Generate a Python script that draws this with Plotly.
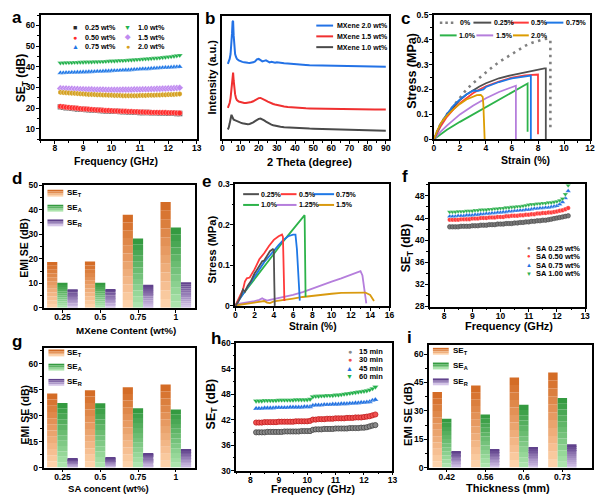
import plotly.graph_objects as go

W, H = 600, 503
FONT = "Liberation Sans"

# ---------------- DATA ----------------
FREQ = [8.2, 8.3, 8.4, 8.5, 8.6, 8.7, 8.8, 8.9, 9.0, 9.1,
        9.2, 9.3, 9.4, 9.5, 9.6, 9.7, 9.8, 9.9, 10.0, 10.1,
        10.2, 10.3, 10.4, 10.5, 10.6, 10.7, 10.8, 10.9, 11.0, 11.1,
        11.2, 11.3, 11.4, 11.5, 11.6, 11.7, 11.8, 11.9, 12.0, 12.1,
        12.2, 12.3, 12.4]

# panel a : SE_T vs frequency for MXene contents
A_025 = [20.6, 20.4, 20.2, 20.1, 19.9, 19.8, 19.6, 19.5, 19.4, 19.3,
         19.2, 19.1, 19.0, 18.9, 18.8, 18.7, 18.6, 18.6, 18.5, 18.4,
         18.4, 18.3, 18.2, 18.2, 18.1, 18.1, 18.0, 18.0, 17.9, 17.9,
         17.8, 17.8, 17.7, 17.7, 17.7, 17.6, 17.6, 17.6, 17.5, 17.5,
         17.5, 17.4, 17.4]
A_050 = [20.8, 20.6, 20.4, 20.3, 20.1, 20.0, 19.9, 19.7, 19.6, 19.5,
         19.4, 19.3, 19.2, 19.1, 19.0, 18.9, 18.8, 18.8, 18.7, 18.6,
         18.6, 18.5, 18.4, 18.4, 18.3, 18.3, 18.2, 18.2, 18.1, 18.1,
         18.0, 18.0, 17.9, 17.9, 17.9, 17.8, 17.8, 17.8, 17.7, 17.7,
         17.7, 17.6, 17.6]
A_075 = [37.0, 37.0, 37.1, 37.1, 37.2, 37.2, 37.3, 37.3, 37.4, 37.4,
         37.5, 37.5, 37.6, 37.7, 37.7, 37.8, 37.9, 37.9, 38.0, 38.1,
         38.1, 38.2, 38.3, 38.4, 38.4, 38.5, 38.6, 38.7, 38.8, 38.9,
         38.9, 39.0, 39.1, 39.2, 39.3, 39.4, 39.5, 39.6, 39.6, 39.7,
         39.8, 39.9, 40.0]
A_100 = [41.9, 41.9, 42.0, 42.0, 42.0, 42.1, 42.1, 42.2, 42.2, 42.3,
         42.3, 42.3, 42.4, 42.4, 42.5, 42.5, 42.6, 42.7, 42.8, 42.8,
         42.9, 43.0, 43.0, 43.1, 43.2, 43.3, 43.4, 43.5, 43.6, 43.7,
         43.8, 43.9, 44.0, 44.1, 44.2, 44.3, 44.5, 44.6, 44.8, 44.9,
         45.1, 45.3, 45.5]
A_150 = [29.5, 29.4, 29.4, 29.3, 29.3, 29.2, 29.2, 29.1, 29.1, 29.0,
         29.0, 29.0, 28.9, 28.9, 28.9, 28.9, 28.8, 28.8, 28.8, 28.8,
         28.8, 28.8, 28.9, 28.9, 28.9, 28.9, 29.0, 29.0, 29.0, 29.1,
         29.1, 29.1, 29.2, 29.2, 29.3, 29.3, 29.4, 29.4, 29.5, 29.5,
         29.6, 29.7, 29.8]
A_200 = [27.6, 27.5, 27.4, 27.3, 27.2, 27.1, 27.0, 26.9, 26.8, 26.7,
         26.6, 26.6, 26.5, 26.4, 26.4, 26.3, 26.3, 26.2, 26.2, 26.1,
         26.1, 26.1, 26.0, 26.0, 26.0, 26.0, 26.0, 26.0, 26.1, 26.1,
         26.1, 26.2, 26.2, 26.2, 26.3, 26.3, 26.4, 26.4, 26.5, 26.5,
         26.6, 26.7, 26.8]

# panel b : XRD
XRD_2THETA = [3, 3.5, 4, 4.5, 5, 5.3, 5.6, 5.9, 6.2, 6.5, 7, 7.5, 8,
              9, 10, 11, 12, 13, 14, 15, 16, 17, 18, 19, 20, 21, 22, 23, 24, 25, 26, 27, 28, 29, 30,
              32, 34, 36, 38, 40, 42, 44, 46, 48, 50, 52, 54, 56, 58, 60, 62, 64, 66, 68, 70,
              72, 74, 76, 78, 80, 82, 84, 86, 88, 90]
XRD_20 = [77, 79, 82, 87, 97, 108, 120, 121, 106, 95, 87, 84, 82,
          80.5, 79.5, 79, 78.5, 78, 78, 77.8, 78, 78.5, 79.5, 81.5, 82, 80.5, 79.5, 80, 80.5, 79.5, 78.5, 79, 78.5, 78, 78.5,
          77.8, 77.5, 77.2, 76.8, 76.5, 76.4, 76.0, 75.9, 75.6, 75.5, 75.4, 75.3, 75.2, 75.2, 75.0, 75.0, 74.9, 74.9, 74.8, 74.7,
          74.7, 74.6, 74.6, 74.5, 74.4, 74.4, 74.3, 74.2, 74.2, 74.0]
XRD_15 = [32, 34, 37, 42, 52, 60, 67, 68, 60, 53, 46, 42, 40,
          38.5, 37.8, 37.3, 37, 37, 37.2, 37.5, 38, 38.8, 40, 41.2, 42, 42.2, 41.5, 40.5, 39.5, 38.5, 37.5, 36.8, 36, 35.5, 35,
          34.2, 33.5, 33, 32.6, 32.3, 32, 31.8, 31.6, 31.5, 31.4, 31.3, 31.2, 31.1, 31.0, 31.0, 30.9, 30.9, 30.8, 30.8, 30.7,
          30.7, 30.6, 30.6, 30.5, 30.5, 30.5, 30.4, 30.4, 30.3, 30.3]
XRD_10 = [10, 12, 16, 22, 25, 23.5, 21.5, 20.5, 20, 19.8, 19.5, 19, 18.5,
          17.7, 17, 16.3, 15.8, 15.5, 15.4, 15.6, 16.2, 17.2, 18.5, 19.8, 20.8, 21.2, 20.5, 19.3, 18, 16.8, 15.8, 15, 14.3, 13.8, 13.4,
          12.8, 12.3, 12.0, 11.8, 11.6, 11.4, 11.2, 11.0, 10.9, 10.8, 10.7, 10.6, 10.5, 10.4, 10.3, 10.2, 10.1, 10.0, 9.9, 9.8,
          9.7, 9.6, 9.5, 9.4, 9.3, 9.2, 9.1, 9.0, 8.9, 8.8]

# panel c : stress-strain (MXene)
C_0_X = [0, 0.5, 1, 1.5, 2, 2.5, 3, 3.5, 4, 4.5, 5, 5.5, 6, 6.5, 7, 7.5, 8, 8.5, 8.8, 8.95, 8.95]
C_0_Y = [0, 0.06, 0.1, 0.135, 0.165, 0.2, 0.225, 0.248, 0.27, 0.29, 0.31, 0.327, 0.343, 0.36, 0.375, 0.387, 0.396, 0.403, 0.405, 0.40, 0.04]
C_025_X = [0, 0.5, 1, 1.5, 2, 2.5, 3, 3.5, 4, 5, 6, 7, 8, 8.5, 8.6, 8.6]
C_025_Y = [0, 0.06, 0.1, 0.13, 0.158, 0.18, 0.197, 0.212, 0.225, 0.245, 0.258, 0.27, 0.28, 0.285, 0.285, 0]
C_05_X = [0, 0.5, 1, 1.5, 2, 2.5, 3, 3.5, 4, 5, 6, 7, 7.9, 8.0, 8.0]
C_05_Y = [0, 0.05, 0.09, 0.12, 0.145, 0.165, 0.185, 0.2, 0.213, 0.232, 0.248, 0.257, 0.26, 0.26, 0.02]
C_075_X = [0, 0.5, 1, 1.5, 2, 2.5, 3, 3.4, 3.8, 4.0, 4.5, 5, 6, 7, 7.35, 7.45, 7.45]
C_075_Y = [0, 0.06, 0.1, 0.135, 0.16, 0.18, 0.195, 0.195, 0.2, 0.21, 0.22, 0.23, 0.245, 0.254, 0.256, 0.256, 0]
C_10_X = [0, 0.5, 1, 2, 3, 4, 5, 6, 7, 7.15, 7.2, 7.2]
C_10_Y = [0, 0.02, 0.038, 0.07, 0.1, 0.13, 0.158, 0.19, 0.22, 0.224, 0.224, 0.03]
C_15_X = [0, 0.5, 1, 2, 3, 4, 5, 6, 6.25, 6.3, 6.3]
C_15_Y = [0, 0.03, 0.055, 0.1, 0.135, 0.165, 0.19, 0.21, 0.215, 0.215, 0]
C_20_X = [0, 0.3, 0.6, 1, 1.5, 2, 2.5, 3, 3.3, 3.6, 3.75, 3.8, 3.85, 3.9]
C_20_Y = [0, 0.04, 0.07, 0.095, 0.12, 0.142, 0.16, 0.172, 0.177, 0.178, 0.17, 0.14, 0.05, 0]

# panel e : stress-strain (SA)
E_025_X = [0, 0.3, 0.6, 0.8, 1.0, 1.3, 1.6, 2, 2.4, 2.8, 3.0, 3.3, 3.6, 3.9, 4.0, 4.05, 4.1]
E_025_Y = [0, 0.01, 0.025, 0.04, 0.035, 0.05, 0.06, 0.08, 0.095, 0.11, 0.112, 0.125, 0.135, 0.14, 0.138, 0.06, 0.0]
E_05_X = [0, 0.4, 0.8, 1.0, 1.2, 1.5, 2, 2.5, 3, 3.5, 4, 4.5, 4.85, 4.95, 5.05, 5.1]
E_05_Y = [0, 0.02, 0.04, 0.06, 0.068, 0.07, 0.09, 0.115, 0.13, 0.148, 0.163, 0.172, 0.176, 0.17, 0.06, 0.012]
E_075_X = [0, 0.5, 1, 1.5, 2, 2.5, 3, 3.5, 4, 4.5, 5, 5.5, 6, 6.25, 6.4, 6.55, 6.7]
E_075_Y = [0, 0.018, 0.037, 0.055, 0.075, 0.092, 0.108, 0.122, 0.137, 0.15, 0.163, 0.172, 0.176, 0.176, 0.14, 0.07, 0.013]
E_10_X = [0, 0.5, 1, 1.5, 2, 3, 4, 5, 6, 7, 7.2, 7.25, 7.3]
E_10_Y = [0, 0.02, 0.035, 0.05, 0.065, 0.095, 0.128, 0.16, 0.19, 0.218, 0.224, 0.12, 0.022]
E_125_X = [0, 0.5, 1, 1.5, 2, 2.5, 2.8, 3.0, 3.3, 3.6, 4, 5, 6, 7, 8, 9, 10, 11, 12, 12.6, 13.0, 13.2, 13.4, 13.6]
E_125_Y = [0.004, 0.006, 0.007, 0.009, 0.012, 0.015, 0.019, 0.016, 0.013, 0.015, 0.017, 0.021, 0.027, 0.034, 0.043, 0.052, 0.06, 0.068, 0.077, 0.083, 0.086, 0.075, 0.035, 0.006]
E_15_X = [0, 0.5, 1, 1.5, 2, 2.5, 3, 3.3, 3.6, 4, 5, 6, 7, 8, 9, 10, 11, 12, 13, 13.5, 14, 14.2, 14.4]
E_15_Y = [0.001, 0.003, 0.004, 0.006, 0.008, 0.01, 0.012, 0.008, 0.007, 0.011, 0.014, 0.018, 0.022, 0.025, 0.028, 0.03, 0.032, 0.033, 0.034, 0.033, 0.027, 0.02, 0.012]

# panel f : SE_T vs frequency for SA contents
F_025 = [42.4, 42.4, 42.4, 42.4, 42.5, 42.5, 42.5, 42.5, 42.6, 42.6,
         42.6, 42.7, 42.7, 42.7, 42.8, 42.8, 42.8, 42.9, 42.9, 42.9,
         43.0, 43.0, 43.0, 43.1, 43.1, 43.2, 43.2, 43.3, 43.3, 43.4,
         43.4, 43.5, 43.5, 43.6, 43.6, 43.7, 43.8, 43.9, 44.0, 44.1,
         44.2, 44.3, 44.4]
F_050 = [43.7, 43.7, 43.7, 43.7, 43.8, 43.8, 43.8, 43.8, 43.9, 43.9,
         43.9, 44.0, 44.0, 44.0, 44.1, 44.1, 44.1, 44.2, 44.2, 44.2,
         44.3, 44.3, 44.4, 44.4, 44.4, 44.5, 44.5, 44.6, 44.6, 44.7,
         44.7, 44.8, 44.8, 44.9, 44.9, 45.0, 45.0, 45.1, 45.2, 45.3,
         45.4, 45.6, 45.8]
F_075 = [44.3, 44.3, 44.3, 44.4, 44.4, 44.4, 44.5, 44.5, 44.5, 44.6,
         44.6, 44.7, 44.7, 44.8, 44.8, 44.9, 44.9, 45.0, 45.0, 45.1,
         45.1, 45.2, 45.2, 45.3, 45.3, 45.4, 45.4, 45.5, 45.5, 45.6,
         45.7, 45.7, 45.8, 45.8, 45.9, 45.9, 46.0, 46.1, 46.2, 46.5,
         46.9, 47.6, 48.9]
F_100 = [45.1, 45.1, 45.1, 45.2, 45.2, 45.2, 45.3, 45.3, 45.3, 45.4,
         45.4, 45.5, 45.5, 45.5, 45.6, 45.6, 45.7, 45.7, 45.8, 45.8,
         45.9, 45.9, 46.0, 46.0, 46.1, 46.1, 46.2, 46.3, 46.4, 46.5,
         46.5, 46.6, 46.6, 46.7, 46.7, 46.8, 46.8, 46.9, 47.0, 47.2,
         47.5, 48.3, 49.9]

# panel h : SE_T vs frequency for times
H_15 = [39.0, 39.0, 39.0, 39.0, 39.1, 39.1, 39.1, 39.1, 39.1, 39.1,
        39.2, 39.2, 39.2, 39.2, 39.2, 39.2, 39.3, 39.3, 39.3, 39.3,
        39.6, 39.7, 39.7, 39.7, 39.8, 39.8, 39.8, 39.8, 39.9, 39.9,
        39.9, 39.9, 39.9, 40.0, 40.0, 40.0, 40.0, 40.1, 40.1, 40.2,
        40.4, 40.6, 40.7]
H_30 = [41.3, 41.3, 41.3, 41.4, 41.4, 41.4, 41.4, 41.4, 41.5, 41.5,
        41.5, 41.5, 41.5, 41.5, 41.6, 41.6, 41.6, 41.6, 41.6, 41.7,
        42.0, 42.0, 42.1, 42.1, 42.1, 42.2, 42.2, 42.2, 42.3, 42.3,
        42.3, 42.3, 42.4, 42.4, 42.4, 42.5, 42.5, 42.5, 42.6, 42.7,
        42.8, 43.0, 43.2]
H_45 = [44.6, 44.6, 44.6, 44.7, 44.7, 44.7, 44.7, 44.8, 44.8, 44.8,
        44.8, 44.8, 44.9, 44.9, 44.9, 44.9, 44.9, 45.0, 45.0, 45.0,
        45.3, 45.4, 45.4, 45.4, 45.5, 45.5, 45.5, 45.6, 45.6, 45.6,
        45.7, 45.7, 45.7, 45.8, 45.8, 45.9, 45.9, 46.0, 46.0, 46.1,
        46.2, 46.5, 46.7]
H_60 = [46.4, 46.4, 46.4, 46.5, 46.5, 46.5, 46.5, 46.5, 46.6, 46.6,
        46.6, 46.6, 46.6, 46.6, 46.7, 46.7, 46.7, 46.7, 46.7, 46.8,
        47.4, 47.5, 47.5, 47.6, 47.6, 47.7, 47.7, 47.7, 47.8, 47.8,
        47.9, 48.0, 48.1, 48.2, 48.3, 48.4, 48.5, 48.6, 48.7, 48.8,
        49.0, 49.3, 49.7]

# bar panels
D_CATS = ["0.25", "0.5", "0.75", "1"]
D_SET = [18.7, 18.9, 38.0, 43.2]
D_SEA = [10.2, 10.2, 28.3, 32.8]
D_SER = [7.6, 7.7, 9.4, 10.5]

G_CATS = ["0.25", "0.5", "0.75", "1"]
G_SET = [42.8, 44.7, 46.4, 47.9]
G_SEA = [37.3, 37.1, 34.3, 33.6]
G_SER = [5.1, 5.6, 8.3, 10.7]

I_CATS = ["0.42", "0.56", "0.6", "0.73"]
I_SET = [39.9, 43.4, 47.6, 50.2]
I_SEA = [25.8, 28.1, 33.2, 36.8]
I_SER = [8.8, 9.8, 10.8, 12.3]

# ---------------- STYLE / LAYOUT ----------------
BOXES = {
    1: (39, 10, 197, 137),
    2: (223, 11, 392, 137),
    3: (437, 10, 595, 137),
    4: (42, 184, 195, 309),
    5: (236, 183, 392, 307),
    6: (433, 183, 590, 308),
    7: (42, 350, 195, 472),
    8: (237, 345, 395, 475),
    9: (432, 347, 597, 472),
}

fig = go.Figure()
ann = []
shapes = []


def ax(p):
    return ("x" if p == 1 else f"x{p}"), ("y" if p == 1 else f"y{p}")


def text(x, y, s, size, xanchor="left", color="black", angle=0, yanchor="middle"):
    ann.append(dict(x=x / W, y=1 - y / H, xref="paper", yref="paper", text=s,
                    showarrow=False, xanchor=xanchor, yanchor=yanchor, textangle=angle,
                    borderpad=0,
                    font=dict(family=FONT, size=size, color=color, weight="bold")))


def hline(x0, x1, y, color, width=2, dash="solid"):
    shapes.append(dict(type="line", xref="paper", yref="paper", x0=x0 / W, x1=x1 / W,
                       y0=1 - y / H, y1=1 - y / H, line=dict(color=color, width=width, dash=dash)))


def lerp(c1, c2, t):
    return "rgb(%d,%d,%d)" % tuple(round(a + (b - a) * t) for a, b in zip(c1, c2))


def swatch(x0, x1, yc, light, dark, h=7, n=4):
    top = yc - h / 2
    for k in range(n):
        y0 = top + k * h / n
        col = lerp(dark, light, k / (n - 1))
        shapes.append(dict(type="rect", xref="paper", yref="paper", x0=x0 / W, x1=x1 / W,
                           y0=1 - (y0 + h / n) / H, y1=1 - y0 / H, line=dict(width=0), fillcolor=col))


def scatter_markers(p, x, y, color, symbol, size=5.5, lw=0.5, lc="rgba(255,255,255,0.7)"):
    xa, ya = ax(p)
    fig.add_trace(go.Scatter(x=x, y=y, mode="markers", xaxis=xa, yaxis=ya, showlegend=False,
                             marker=dict(color=color, symbol=symbol, size=size,
                                         line=dict(width=lw, color=lc))))


def line(p, x, y, color, width=1.8, dash="solid"):
    xa, ya = ax(p)
    fig.add_trace(go.Scatter(x=x, y=y, mode="lines", xaxis=xa, yaxis=ya, showlegend=False,
                             line=dict(color=color, width=width, dash=dash)))


ORANGE = ((253, 210, 170), (212, 108, 38))
GREEN = ((172, 228, 172), (52, 154, 64))
PURPLE = ((212, 196, 232), (96, 66, 140))
NSEG = 12


def grad_bars(p, cats, vals, offset, width, light, dark):
    xa, ya = ax(p)
    for k in range(NSEG):
        fig.add_trace(go.Bar(x=cats, y=[v / NSEG for v in vals], base=[v * k / NSEG for v in vals],
                             offset=offset, width=width, xaxis=xa, yaxis=ya, showlegend=False,
                             marker=dict(color=lerp(light, dark, k / (NSEG - 1)), line=dict(width=0))))


# ---- panel a ----
scatter_markers(1, FREQ, A_025, "#2b2b2b", "square")
scatter_markers(1, FREQ, A_050, "#ff2a2a", "circle")
scatter_markers(1, FREQ, A_075, "#1f77e6", "triangle-up")
scatter_markers(1, FREQ, A_100, "#22b14c", "triangle-down")
scatter_markers(1, FREQ, A_150, "#c08bf0", "diamond")
scatter_markers(1, FREQ, A_200, "#d4a020", "hexagon")

# ---- panel b ----
line(2, XRD_2THETA, XRD_10, "#4a4a4a", 2)
line(2, XRD_2THETA, XRD_15, "#f03030", 2)
line(2, XRD_2THETA, XRD_20, "#2372e6", 2)

# ---- panel c ----
C_COLORS = {"0.25": "#505050", "0.5": "#ff3a3a", "0.75": "#1e78e6", "1.0": "#2db34a",
            "1.5": "#b57edc", "2.0": "#dc9c00"}
line(3, C_0_X, C_0_Y, "#808080", 2.6, "2.5px,4.5px")
line(3, C_10_X, C_10_Y, C_COLORS["1.0"])
line(3, C_15_X, C_15_Y, C_COLORS["1.5"])
line(3, C_025_X, C_025_Y, C_COLORS["0.25"])
line(3, C_05_X, C_05_Y, C_COLORS["0.5"])
line(3, C_075_X, C_075_Y, C_COLORS["0.75"])
line(3, C_20_X, C_20_Y, C_COLORS["2.0"])

# ---- panel d ----
grad_bars(4, D_CATS, D_SET, -0.405, 0.27, *ORANGE)
grad_bars(4, D_CATS, D_SEA, -0.135, 0.27, *GREEN)
grad_bars(4, D_CATS, D_SER, 0.135, 0.27, *PURPLE)

# ---- panel e ----
line(5, E_125_X, E_125_Y, "#b57edc")
line(5, E_15_X, E_15_Y, "#d99a10")
line(5, E_10_X, E_10_Y, "#2db34a")
line(5, E_075_X, E_075_Y, "#1e78e6")
line(5, E_05_X, E_05_Y, "#ff3a3a")
line(5, E_025_X, E_025_Y, "#505050")

# ---- panel f ----
scatter_markers(6, FREQ, F_025, "#777777", "circle", 4.5, 0.6, "#444444")
scatter_markers(6, FREQ, F_050, "#ff3b3b", "circle", 4.5, 0.4)
scatter_markers(6, FREQ, F_075, "#2070e0", "triangle-up", 4.8, 0.4)
scatter_markers(6, FREQ, F_100, "#2db04e", "triangle-down", 4.8, 0.4)

# ---- panel g ----
grad_bars(7, G_CATS, G_SET, -0.405, 0.27, *ORANGE)
grad_bars(7, G_CATS, G_SEA, -0.135, 0.27, *GREEN)
grad_bars(7, G_CATS, G_SER, 0.135, 0.27, *PURPLE)

# ---- panel h ----
scatter_markers(8, FREQ, H_15, "#8a8a8a", "circle", 5.2, 0.8, "#444444")
scatter_markers(8, FREQ, H_30, "#f05050", "circle", 5.2, 0.8, "#c02020")
scatter_markers(8, FREQ, H_45, "#1e6fe0", "triangle-up", 5.5, 0.4)
scatter_markers(8, FREQ, H_60, "#22b04a", "triangle-down", 5.5, 0.4)

# ---- panel i ----
grad_bars(9, I_CATS, I_SET, -0.3675, 0.245, *ORANGE)
grad_bars(9, I_CATS, I_SEA, -0.1225, 0.245, *GREEN)
grad_bars(9, I_CATS, I_SER, 0.1225, 0.245, *PURPLE)

# ---------------- AXES ----------------
AX_SPECS = {
    1: dict(x=dict(range=[7.5, 13], dtick=1, minor=0.5), y=dict(range=[4.9, 65.1], dtick=10, minor=5)),
    2: dict(x=dict(range=[0, 92], dtick=10, minor=5), y=dict(range=[0, 126], hide=True)),
    3: dict(x=dict(range=[0, 12], dtick=2, minor=1), y=dict(range=[0, 0.5], dtick=0.1, minor=0.05)),
    4: dict(x=dict(range=[-0.5, 3.5], cat=True), y=dict(range=[0, 50], dtick=10, minor=5)),
    5: dict(x=dict(range=[0, 16], dtick=2, minor=1), y=dict(range=[0, 0.3], dtick=0.1, minor=0.05)),
    6: dict(x=dict(range=[7.5, 13], dtick=1, minor=0.5), y=dict(range=[27.9, 50.1], dtick=4, minor=2)),
    7: dict(x=dict(range=[-0.5, 3.5], cat=True), y=dict(range=[0, 69], dtick=15, minor=7.5)),
    8: dict(x=dict(range=[7.5, 13], dtick=1, minor=0.5), y=dict(range=[30, 60], dtick=6, minor=3)),
    9: dict(x=dict(range=[-0.46, 3.77], cat=True), y=dict(range=[0, 64.7], dtick=15, minor=7.5)),
}

layout_axes = {}
for p, (L, T, R, B) in BOXES.items():
    spec = AX_SPECS[p]
    for k in ("x", "y"):
        s = spec[k]
        a = dict(showline=True, linecolor="black", linewidth=1.5, mirror=True,
                 ticks="outside", ticklen=3, tickwidth=1.2, tickcolor="black",
                 showgrid=False, zeroline=False, range=s["range"], fixedrange=True,
                 ticklabelstandoff=(-3 if k == "x" else -1),
                 tickfont=dict(family=FONT, size=8.5, color="black", weight="bold"))
        if s.get("cat"):
            a["type"] = "category"
        elif s.get("hide"):
            a["ticks"] = ""
            a["showticklabels"] = False
        else:
            a["dtick"] = s["dtick"]
            a["tick0"] = 0
            a["minor"] = dict(ticks="outside", ticklen=1.8, tickwidth=1, dtick=s["minor"],
                              tickcolor="black", showgrid=False)
        if k == "x":
            a["domain"] = [L / W, R / W]
            a["anchor"] = ax(p)[1]
        else:
            a["domain"] = [1 - B / H, 1 - T / H]
            a["anchor"] = ax(p)[0]
        name = ("xaxis" if k == "x" else "yaxis") + ("" if p == 1 else str(p))
        layout_axes[name] = a

# ---------------- TEXT: panel letters, axis titles ----------------
for lab, x, y in [("a", 15, 13), ("b", 210, 14), ("c", 408, 14), ("d", 15, 177), ("e", 207, 180),
                  ("f", 408, 175), ("g", 15, 343), ("h", 217, 340), ("i", 412, 339)]:
    text(x, y, lab, 17, xanchor="center")

SET_T = "SE<sub>T</sub> (dB)"
text(115, 159, "Frequency (GHz)", 10.5, "center")
text(20, 75, SET_T, 12, "center", angle=-90)
text(311, 160, "2 Theta (degree)", 11, "center")
text(212.5, 74, "Intensity (a.u.)", 11, "center", angle=-90)
text(530, 158, "Strain (%)", 10.5, "center")
text(414, 67, "Stress (MPa)", 12.5, "center", angle=-90)
text(125, 332, "MXene Content (wt%)", 9.8, "center")
text(22, 248, "EMI SE (dB)", 10.5, "center", angle=-90)
text(315, 328, "Strain (%)", 10.2, "center")
text(213, 250, "Stress (MPa)", 11.2, "center", angle=-90)
text(513, 328, "Frequency (GHz)", 11, "center")
text(410, 248, SET_T, 12, "center", angle=-90)
text(108, 493, "SA concent (wt%)", 9.6, "center")
text(23, 418, "EMI SE (dB)", 10.5, "center", angle=-90)
text(315, 494, "Frequency (GHz)", 10.5, "center")
text(212, 407, SET_T, 12.5, "center", angle=-90)
text(512, 493, "Thickness (mm)", 11, "center")
text(410, 417, "EMI SE (dB)", 11.2, "center", angle=-90)

# ---------------- LEGENDS (custom) ----------------
# a
for (gx, tx), rows in [((74, 83), [("■", "#2b2b2b", "0.25 wt%"), ("●", "#ff2a2a", "0.50 wt%"), ("▲", "#1f77e6", "0.75 wt%")]),
                       ((127, 137), [("▼", "#22b14c", "1.0 wt%"), ("◆", "#c08bf0", "1.5 wt%"), ("●", "#d4a020", "2.0 wt%")])]:
    for (g, c, s), y in zip(rows, [23.3, 32.7, 42]):
        text(gx, y, g, 7, "center", color=c)
        text(tx, y, s, 7.2)
# b
for c, s, y in [("#2372e6", "MXene 2.0 wt%", 21), ("#f03030", "MXene 1.5 wt%", 32), ("#4a4a4a", "MXene 1.0 wt%", 43)]:
    hline(318, 335, y, c, 2)
    text(338, y, s, 7)
# c
hline(443, 459, 18, "#808080", 2.5, "2.5px,3px")
text(462, 18, "0%", 7)
for x0, x1, c, s, y in [(477, 495, C_COLORS["0.25"], "0.25%", 18), (515, 533, C_COLORS["0.5"], "0.5%", 18),
                        (550, 568, C_COLORS["0.75"], "0.75%", 18), (443, 460, C_COLORS["1.0"], "1.0%", 31),
                        (480, 497, C_COLORS["1.5"], "1.5%", 31), (517, 533, C_COLORS["2.0"], "2.0%", 31)]:
    hline(x0, x1, y, c, 2)
    text(x1 + 1.5, y, s, 7)
# e
for x0, x1, c, s, y in [(244, 260, "#505050", "0.25%", 193), (282, 298, "#ff3a3a", "0.5%", 193),
                        (315, 336, "#1e78e6", "0.75%", 193), (244, 260, "#2db34a", "1.0%", 204),
                        (278, 298, "#b57edc", "1.25%", 204), (320, 336, "#d99a10", "1.5%", 204)]:
    hline(x0, x1, y, c, 2)
    text(x1 + 1, y, s, 7)
# f
for g, c, s, y in [("●", "#777777", "SA 0.25 wt%", 248), ("●", "#ff3b3b", "SA 0.50 wt%", 256.6),
                   ("▲", "#2070e0", "SA 0.75 wt%", 265.3), ("▼", "#2db04e", "SA 1.00 wt%", 274)]:
    text(533, y, g, 6, "center", color=c)
    text(539, y, s, 7.5)
# h
for g, c, s, y in [("●", "#8a8a8a", "15 min", 353.3), ("●", "#f05050", "30 min", 361.8),
                   ("▲", "#1e6fe0", "45 min", 370.6), ("▼", "#22b04a", "60 min", 379.3)]:
    text(352, y, g, 7, "center", color=c)
    text(360, y, s, 7.5)
# bar legends
for x0, x1, tx, ys in [(46, 62, 65, [192, 207.3, 222.3]), (47, 63, 65, [355, 369.5, 385]),
                       (436, 452, 455, [353.3, 368.3, 384.5])]:
    for (light, dark), lab, y in zip([ORANGE, GREEN, PURPLE], ["SE<sub>T</sub>", "SE<sub>A</sub>", "SE<sub>R</sub>"], ys):
        swatch(x0, x1, y, light, dark)
        text(tx, y, lab, 8)

fig.update_layout(
    width=W, height=H, margin=dict(l=0, r=0, t=0, b=0),
    paper_bgcolor="white", plot_bgcolor="white", showlegend=False,
    barmode="overlay", annotations=ann, shapes=shapes,
    font=dict(family=FONT, color="black"),
    **layout_axes,
)

fig.write_html("out.html")
